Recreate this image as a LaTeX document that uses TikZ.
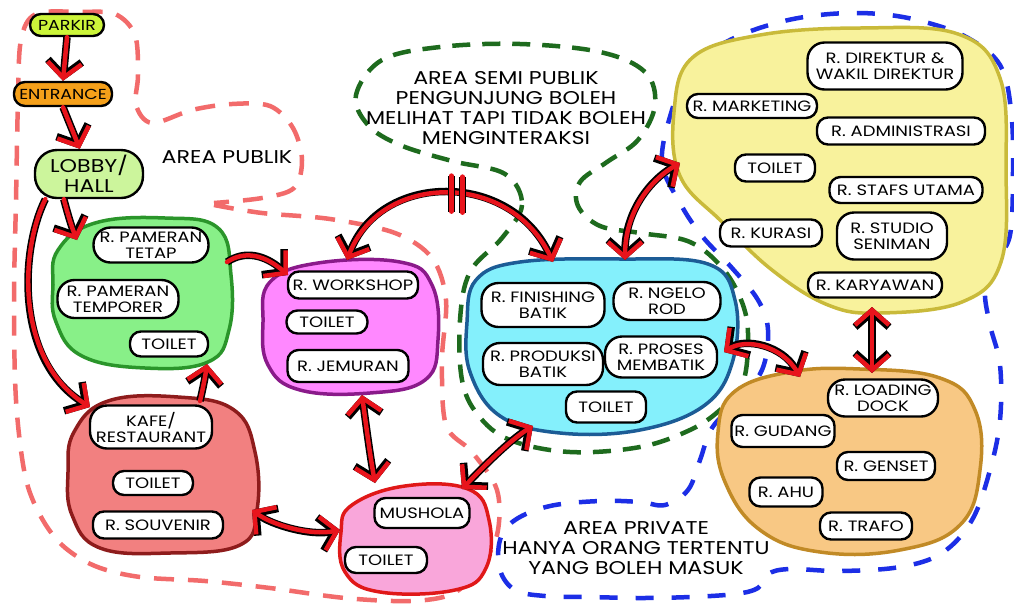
\documentclass[tikz,border=0pt]{standalone}
\usepackage{fontspec}
\setmainfont[FakeStretch=1.2]{Poppins}
\usetikzlibrary{arrows.meta}

\definecolor{arrowred}{HTML}{E8141C}
\definecolor{pubdash}{HTML}{F26B6B}
\definecolor{semidash}{HTML}{1E6B1E}
\definecolor{privdash}{HTML}{1C2EE6}
\definecolor{parkirfill}{HTML}{CCF53A}
\definecolor{entrancefill}{HTML}{F5A01A}
\definecolor{lobbyfill}{HTML}{CCF59C}
\definecolor{pamfill}{HTML}{88F088}
\definecolor{pamline}{HTML}{2A952A}
\definecolor{kafefill}{HTML}{F28080}
\definecolor{kafeline}{HTML}{8E1C1C}
\definecolor{wsfill}{HTML}{FF88FF}
\definecolor{wsline}{HTML}{8A1A8A}
\definecolor{musfill}{HTML}{F9A6DA}
\definecolor{musline}{HTML}{E01818}
\definecolor{batikfill}{HTML}{84F0FC}
\definecolor{batikline}{HTML}{1C5C96}
\definecolor{admfill}{HTML}{F8F29C}
\definecolor{admline}{HTML}{C9BA3A}
\definecolor{svcfill}{HTML}{F8C884}
\definecolor{svcline}{HTML}{C18A26}

\begin{document}
\begin{tikzpicture}[x=1pt,y=-1pt,
  room/.style={rectangle, rounded corners=11pt, draw=black, fill=white, line width=2.4pt,
    inner sep=2pt, align=center, font=\fontsize{15}{16}\selectfont},
  tallroom/.style={room, rounded corners=17pt},
  blob/.style={line width=3.5pt, line join=round},
  zonetext/.style={align=center, font=\fontsize{18.5}{20}\selectfont},
  pubzone/.style={draw=pubdash, line width=4.5pt, dash pattern=on 20pt off 14pt},
  semizone/.style={draw=semidash, line width=4.5pt, dash pattern=on 18pt off 12pt},
  privzone/.style={draw=privdash, line width=4.5pt, dash pattern=on 18pt off 18pt},
  flowbase/.style={draw=arrowred, line width=4.5pt, line cap=round, line join=round,
    preaction={draw=black, line width=7.5pt}},
  flow/.style={flowbase, -{Straight Barb[length=15pt,width=34pt]}},
  flow2/.style={flowbase, {Straight Barb[length=15pt,width=34pt]}-{Straight Barb[length=15pt,width=34pt]}},
  barmark/.style={draw=arrowred, line width=4.5pt, line cap=round,
    preaction={draw=black, line width=7.5pt}}
]
\useasboundingbox (0,0) rectangle (1014,606);
\fill[white] (0,0) rectangle (1014,606);

% ---------- zone boundaries ----------
\draw[pubzone] plot[smooth, tension=0.55] coordinates {
  (214,205) (262,213) (330,219) (395,233) (432,258) (446,300) (442,360)
  (446,425) (472,452) (497,490) (497,535) (478,570) (452,594) (410,601)
  (345,598) (270,588) (205,581) (140,577) (95,566) (62,545) (40,515)
  (25,475) (16,400) (14,300) (16,200) (18,100) (21,40) (36,14) (80,12)
  (115,14) (135,35) (138,75) (136,105) (152,123) (192,110) (232,104)
  (270,106) (293,128) (302,160) (294,188) (262,198) (214,203)};

\draw[semizone] plot[smooth cycle, tension=0.6] coordinates {
  (505,174) (522,205) (502,238) (470,272) (460,320) (462,380) (478,415)
  (510,440) (570,452) (640,447) (690,430) (720,410) (742,385) (748,345)
  (744,308) (724,270) (690,242) (640,233) (600,226) (578,206) (580,182)
  (607,162) (638,140) (655,105) (645,72) (600,52) (520,44) (440,47)
  (382,60) (356,95) (368,125) (400,145) (452,161)};

\draw[privzone] plot[smooth cycle, tension=0.6] coordinates {
  (672,110) (690,68) (730,40) (780,22) (830,14) (880,14) (925,22)
  (968,38) (1000,65) (1011,110) (1013,170) (1010,235) (995,262)
  (985,290) (990,325) (1000,365) (1000,420) (990,470) (972,520)
  (942,553) (900,567) (840,571) (790,569) (768,574) (758,588)
  (735,594) (690,597) (640,598) (590,597) (545,596) (515,590)
  (500,570) (500,540) (515,520) (550,506) (600,501) (640,502)
  (665,505) (688,490) (700,460) (712,428) (738,400) (762,370)
  (768,330) (758,300) (732,268) (702,236) (680,203) (662,162)};

% ---------- zone captions ----------
\node[zonetext] (pubtext) at (227,157) {AREA PUBLIK};
\node[zonetext] (semitext) at (506,108) {AREA SEMI PUBLIK\\PENGUNJUNG BOLEH\\MELIHAT TAPI TIDAK BOLEH\\MENGINTERAKSI};
\node[zonetext] (privtext) at (636,548) {AREA PRIVATE\\HANYA ORANG TERTENTU\\YANG BOLEH MASUK};

% ---------- room groups ----------
\draw[blob, draw=pamline, fill=pamfill] plot[smooth cycle, tension=0.7] coordinates {
  (58,250) (95,223) (165,218) (218,228) (231,275) (229,330) (208,362)
  (145,368) (82,356) (56,322) (53,285)};
\draw[blob, draw=kafeline, fill=kafefill] plot[smooth cycle, tension=0.7] coordinates {
  (74,432) (108,401) (178,397) (234,410) (255,452) (257,510) (240,545)
  (170,553) (100,548) (72,515) (68,472)};
\draw[blob, draw=wsline, fill=wsfill] plot[smooth cycle, tension=0.7] coordinates {
  (270,282) (318,263) (400,262) (432,285) (438,340) (425,380) (370,393)
  (300,390) (268,365) (263,322)};
\draw[blob, draw=musline, fill=musfill] plot[smooth cycle, tension=0.7] coordinates {
  (352,505) (405,486) (468,489) (489,520) (486,568) (455,590) (380,592)
  (345,572) (341,532)};
\draw[blob, draw=batikline, fill=batikfill] plot[smooth cycle, tension=0.65] coordinates {
  (476,280) (520,262) (620,259) (708,264) (735,300) (733,360) (705,405)
  (640,430) (560,433) (500,416) (470,372) (467,322)};
\draw[blob, draw=admline, fill=admfill] plot[smooth cycle, tension=0.65] coordinates {
  (692,58) (760,35) (860,28) (958,34) (1000,78) (1006,170) (1001,262)
  (962,302) (880,313) (828,305) (772,270) (722,222) (680,176) (674,112)};
\draw[blob, draw=svcline, fill=svcfill] plot[smooth cycle, tension=0.7] coordinates {
  (734,392) (790,372) (860,369) (940,378) (975,410) (980,470) (960,525)
  (900,550) (820,552) (760,530) (725,482) (718,432)};

% ---------- arrival points on the group outlines ----------
\coordinate (pamIn) at (77,240);
\coordinate (pamOut) at (227,262);
\coordinate (pamBot) at (207,364);
\coordinate (kafeIn) at (90,407);
\coordinate (kafeTop) at (200,401);
\coordinate (kafeR) at (252,510);
\coordinate (wsIn) at (288,275);
\coordinate (wsTop) at (347,260);
\coordinate (wsBot) at (362,395);
\coordinate (musTop) at (375,483);
\coordinate (musL) at (340,530);
\coordinate (musR) at (462,489);
\coordinate (btL) at (533,426);
\coordinate (btTop) at (553,262);
\coordinate (btTopR) at (625,260);
\coordinate (btR) at (724,352);
\coordinate (admL) at (680,163);
\coordinate (admBot) at (872,307);
\coordinate (svcTop) at (872,373);
\coordinate (svcL) at (800,377);

% ---------- entry sequence ----------
\node[room, fill=parkirfill, minimum width=74pt, minimum height=22pt, inner sep=1pt, font=\fontsize{14.5}{15}\selectfont] (parkir) at (67,25) {PARKIR};
\node[room, fill=entrancefill, minimum width=98pt, minimum height=24pt, inner sep=1pt, font=\fontsize{14.5}{15}\selectfont] (entrance) at (63,94) {ENTRANCE};
\node[tallroom, rounded corners=22pt, fill=lobbyfill, minimum width=108pt, minimum height=48pt, font=\fontsize{18.5}{20}\selectfont] (lobby) at (89,174) {LOBBY/\\HALL};

% ---------- connectors ----------
\draw[flow] (parkir.south) -- (entrance.north);
\draw[flow] (entrance.south) -- (lobby.110);
\draw[flow] (lobby.-135) .. controls (68,215) and (72,228) .. (pamIn);
\draw[flow] (lobby.-150) .. controls (20,250) and (15,360) .. (kafeIn);
\draw[flow] (kafeTop) .. controls (203,388) and (205,378) .. (pamBot);
\draw[flow] (pamOut) .. controls (245,250) and (265,255) .. (wsIn);
\draw[flow2] (kafeR) .. controls (272,525) and (310,536) .. (musL);
\draw[flow2] (wsBot) .. controls (366,425) and (370,455) .. (musTop);
\draw[flow2] (musR) .. controls (482,468) and (510,440) .. (btL);
\draw[flow2] (wsTop) .. controls (380,172) and (510,170) .. coordinate[pos=0.52] (barA) coordinate[pos=0.565] (barB) (btTop);
\draw[barmark] (barA) ++(0,-18) -- ++(0,36);
\draw[barmark] (barB) ++(0,-18) -- ++(0,36);
\draw[flow2] (btTopR) .. controls (625,212) and (650,180) .. (admL);
\draw[flow2] (btR) .. controls (745,338) and (782,345) .. (svcL);
\draw[flow2] (admBot) -- (svcTop);

% ---------- pameran ----------
\node[tallroom, minimum width=115pt, minimum height=35pt] (pTetap) at (151,245) {R. PAMERAN\\TETAP};
\node[tallroom, minimum width=121pt, minimum height=38pt] (pTemp) at (118,299) {R. PAMERAN\\TEMPORER};
\node[room, minimum width=78pt, minimum height=25pt] (pToilet) at (169,344) {TOILET};
% ---------- kafe ----------
\node[tallroom, minimum width=122pt, minimum height=43pt] (kafe) at (151,427) {KAFE/\\RESTAURANT};
\node[room, minimum width=80pt, minimum height=24pt] (kToilet) at (153,483) {TOILET};
\node[room, minimum width=130pt, minimum height=27pt] (kSouv) at (158,525) {R. SOUVENIR};
% ---------- workshop ----------
\node[room, minimum width=130pt, minimum height=27pt] (wWork) at (353,285) {R. WORKSHOP};
\node[room, minimum width=81pt, minimum height=23pt] (wToilet) at (327,322) {TOILET};
\node[room, minimum width=121pt, minimum height=32pt] (wJem) at (348,366) {R. JEMURAN};
% ---------- mushola ----------
\node[room, minimum width=95pt, minimum height=30pt] (mMus) at (422,513) {MUSHOLA};
\node[room, minimum width=82pt, minimum height=26pt] (mToilet) at (386,560) {TOILET};
% ---------- batik ----------
\node[tallroom, minimum width=123pt, minimum height=44pt] (cFin) at (543,305) {R. FINISHING\\BATIK};
\node[tallroom, minimum width=107pt, minimum height=38pt] (cNgelo) at (667,301) {R. NGELO\\ROD};
\node[tallroom, minimum width=120pt, minimum height=42pt] (cProd) at (543,364) {R. PRODUKSI\\BATIK};
\node[tallroom, minimum width=112pt, minimum height=41pt] (cProses) at (661,357) {R. PROSES\\MEMBATIK};
\node[room, minimum width=80pt, minimum height=31pt] (cToilet) at (606,407) {TOILET};
% ---------- administration ----------
\node[tallroom, minimum width=155pt, minimum height=47pt] (yDir) at (885,66) {R. DIREKTUR \&\\WAKIL DIREKTUR};
\node[room, minimum width=130pt, minimum height=24pt] (yMkt) at (752,106) {R. MARKETING};
\node[room, minimum width=168pt, minimum height=27pt] (yAdm) at (901,131) {R. ADMINISTRASI};
\node[room, minimum width=80pt, minimum height=27pt] (yToilet) at (775,168) {TOILET};
\node[room, minimum width=153pt, minimum height=26pt] (yStaf) at (906,190) {R. STAFS UTAMA};
\node[room, minimum width=102pt, minimum height=27pt] (yKur) at (771,233) {R. KURASI};
\node[tallroom, minimum width=110pt, minimum height=47pt] (yStudio) at (892,236) {R. STUDIO\\SENIMAN};
\node[room, minimum width=134pt, minimum height=25pt] (yKary) at (875,285) {R. KARYAWAN};
% ---------- service ----------
\node[tallroom, minimum width=110pt, minimum height=37pt] (oLoad) at (883,398) {R. LOADING\\DOCK};
\node[room, minimum width=103pt, minimum height=32pt] (oGud) at (783,431) {R. GUDANG};
\node[room, minimum width=98pt, minimum height=28pt] (oGen) at (886,466) {R. GENSET};
\node[room, minimum width=73pt, minimum height=29pt] (oAhu) at (786,492) {R. AHU};
\node[room, minimum width=92pt, minimum height=27pt] (oTrafo) at (866,526) {R. TRAFO};
\end{tikzpicture}
\end{document}
